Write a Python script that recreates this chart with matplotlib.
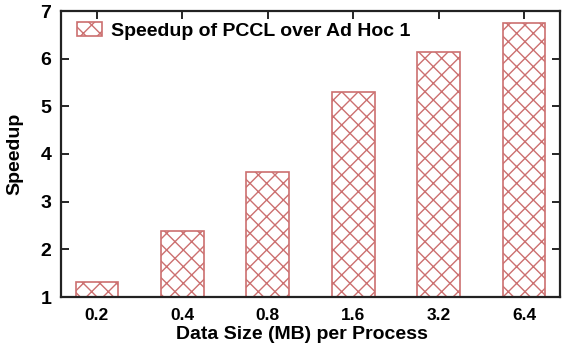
import matplotlib.pyplot as plt

plt.rcParams['font.family'] = ['Liberation Sans', 'DejaVu Sans']
plt.rcParams['font.weight'] = 'bold'
plt.rcParams['axes.labelweight'] = 'bold'
plt.rcParams['hatch.color'] = '#cc7070'
plt.rcParams['hatch.linewidth'] = 1.0

sizes = ['0.2', '0.4', '0.8', '1.6', '3.2', '6.4']
speedup = [1.31, 2.38, 3.63, 5.31, 6.13, 6.75]
series_name = 'Speedup of PCCL over Ad Hoc 1'

fig = plt.figure(figsize=(5.64, 3.44), dpi=100)
ax = fig.add_axes([61 / 564, 47 / 344, 499 / 564, 286 / 344])

pos = list(range(len(sizes)))
ax.bar(pos, [v - 1 for v in speedup], bottom=1, width=0.5, color='white',
       edgecolor='#cc7070', linewidth=1.2, hatch='xx', label=series_name)

ax.set_xlim(-0.42, 5.42)
ax.set_ylim(1, 7)
ax.set_xticks(pos)
ax.set_xticklabels(sizes, fontsize=12.5)
ax.set_yticks(range(1, 8))
ax.tick_params(axis='y', direction='in', length=6, width=1.2, labelsize=14,
               right=True, pad=7)
ax.tick_params(axis='x', direction='in', length=6, width=1.2, top=True,
               bottom=False, pad=8)
for s in ax.spines.values():
    s.set_linewidth(1.6)
    s.set_color('#222222')

ax.set_xlabel('Data Size (MB) per Process', fontsize=14, labelpad=2)
ax.xaxis.label.set_x(0.483)  # label sits a bit left of centre, as in the original
ax.set_ylabel('Speedup', fontsize=14, labelpad=12)

ax.legend(loc='upper left', frameon=False, fontsize=14, handlelength=1.3,
          handleheight=0.75, handletextpad=0.45, borderpad=0, borderaxespad=0,
          bbox_to_anchor=(16 / 499, 1 - 11 / 286))

fig.savefig('out.png', dpi=100)
